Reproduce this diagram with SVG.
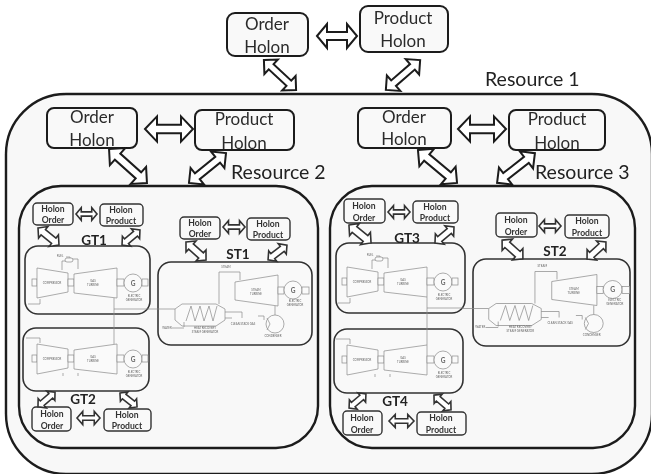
<svg xmlns="http://www.w3.org/2000/svg" width="651" height="474" viewBox="0 0 651 474">
<style>
text{font-family:"Lato","Liberation Sans",sans-serif;text-anchor:middle}
.res{fill:#f8f8f8;stroke:#1c1c1c;stroke-width:2.4}
.hb{fill:#f9f9f9;stroke:#1c1c1c;stroke-width:2}
.sb{fill:#f9f9f9;stroke:#333;stroke-width:1.6}
.ub{fill:#f9f9f9;stroke:#333;stroke-width:1.4}
.lab{font-size:17px;fill:#2c2c2c}
.res-lab{font-size:19.5px;fill:#222;text-anchor:start}
.sm{font-size:8.6px;font-weight:700;fill:#333}
.gt{font-size:13.5px;font-weight:700;fill:#222}
#d,#x,#s{vector-effect:non-scaling-stroke}
.ar{fill:#fff;stroke:#1a1a1a;stroke-width:2}
.ar2{fill:#fff;stroke:#333;stroke-width:1.6}
.m{fill:none;stroke:#8a8a8a;stroke-width:.7}
.mf{fill:#fafafa;stroke:#8a8a8a;stroke-width:.7}
.t{font-size:2.8px;fill:#666}
.g{font-size:6.5px;font-weight:700;fill:#666}
</style>
<defs>
<filter id="soft" x="-2%" y="-2%" width="104%" height="104%"><feGaussianBlur stdDeviation="0.35"/></filter>
<path id="d" d="M-1 0L-.55-.45V-.16H.55V-.45L1 0 .55 .45V.16H-.55V.45Z"/>
<path id="s" d="M-1 0L-.5-.55V-.26H.5V-.55L1 0 .5 .55V.26H-.5V.55Z"/>
<path id="x" d="M-1 0L-.5-.6V-.2H.5V-.6L1 0 .5 .6V.2H-.5V.6Z"/>
<g id="gen">
<rect class="mf" x="32" y="279" width="5" height="7"/>
<path class="mf" d="M37 268L68 273V292L37 298Z"/>
<rect class="mf" x="68" y="279" width="6" height="7"/>
<path class="mf" d="M74 274L117 268V298L74 293Z"/>
<rect class="mf" x="117" y="279" width="7" height="7"/>
<circle class="mf" cx="133" cy="283" r="9"/>
<rect class="mf" x="142" y="279" width="6" height="7"/>
<text class="t" x="52" y="284">COMPRESSOR</text>
<text class="t" x="93" y="282">GAS</text>
<text class="t" x="93" y="286">TURBINE</text>
<text class="g" x="133" y="285.500">G</text>
<text class="t" x="134" y="297">ELECTRIC</text>
<text class="t" x="134" y="300.500">GENERATOR</text>
</g>
<g id="fuel">
<path class="m" d="M62 270V261H66M72 259H78V269"/>
<rect class="mf" x="65" y="258" width="8" height="4" rx="2"/>
<path class="m" d="M66 257H70V258"/>
<text class="t" x="60" y="257">FUEL</text>
<path class="m" d="M28 304H40V299"/>
</g>
<g id="st">
<path class="m" d="M150 309H175"/>
<path class="mf" d="M175 309L182 304H216L225 309V320L216 326H182L175 320Z"/>
<path class="m" d="M186 321L191 306 195 321 200 306 204 321 209 306 213 321 217 306"/>
<path class="m" d="M219 304V272H240V280"/>
<path class="m" d="M225 312H242V318M225 318H232M184 322V327"/>
<path class="mf" d="M235 282L278 275V306L235 300Z"/>
<rect class="mf" x="278" y="287" width="6" height="7"/>
<circle class="mf" cx="293" cy="290" r="9"/>
<rect class="mf" x="302" y="287" width="7" height="7"/>
<circle class="mf" cx="275" cy="324" r="9"/>
<path class="m" d="M267 318L270 324 267 330M275 315V306M258 316H264V320"/>
<text class="t" x="226" y="268">STEAM</text>
<text class="t" x="256" y="291">STEAM</text>
<text class="t" x="256" y="295">TURBINE</text>
<text class="g" x="293" y="292.500">G</text>
<text class="t" x="295" y="302">ELECTRIC</text>
<text class="t" x="295" y="305.500">GENERATOR</text>
<text class="t" x="205" y="329">HEAT RECOVERY</text>
<text class="t" x="205" y="332.500">STEAM GENERATOR</text>
<text class="t" x="167" y="329">WATER</text>
<path class="m" d="M172 328H184"/>
<text class="t" x="243" y="325">CLEAN STACK GAS</text>
<text class="t" x="273" y="337">CONDENSER</text>
</g>
</defs>
<rect width="651" height="474" fill="#fff"/>
<g filter="url(#soft)">
<g id="resource-1">
<rect class="res" x="6" y="94" width="646" height="380" rx="60"/>
<text class="res-lab" x="485" y="86">Resource 1</text>
</g>
<g id="order-holon-top"><rect class="hb" x="227" y="13" width="81" height="43" rx="8"/><text class="lab" x="267" y="30">Order</text><text class="lab" x="267" y="53">Holon</text></g>
<g id="product-holon-top"><rect class="hb" x="360" y="6" width="88" height="46" rx="8"/><text class="lab" x="403" y="24">Product</text><text class="lab" x="403" y="47">Holon</text></g>

<g id="resource-2">
<rect class="res" x="19" y="186" width="299" height="262" rx="42"/>
<text class="res-lab" x="231" y="179">Resource 2</text>
</g>
<g id="resource-3">
<rect class="res" x="330" y="186" width="305" height="262" rx="42"/>
<text class="res-lab" x="535" y="179">Resource 3</text>
</g>
<g id="order-holon-r2"><rect class="hb" x="47" y="108" width="90" height="40" rx="7"/><text class="lab" x="92" y="123">Order</text><text class="lab" x="92" y="146">Holon</text></g>
<g id="product-holon-r2"><rect class="hb" x="195" y="110" width="99" height="40" rx="7"/><text class="lab" x="244" y="125">Product</text><text class="lab" x="244" y="149">Holon</text></g>
<g id="order-holon-r3"><rect class="hb" x="358" y="108" width="93" height="40" rx="7"/><text class="lab" x="404" y="123">Order</text><text class="lab" x="404" y="145">Holon</text></g>
<g id="product-holon-r3"><rect class="hb" x="509" y="110" width="96" height="40" rx="7"/><text class="lab" x="557" y="125">Product</text><text class="lab" x="557" y="149">Holon</text></g>

<g id="gt1"><rect class="sb" x="25" y="246" width="125" height="68" rx="13"/><use href="#gen"/><use href="#fuel"/><text class="gt" x="94" y="244.500">GT1</text></g>
<g id="gt2"><rect class="sb" x="23" y="328" width="126" height="63" rx="13"/><use href="#gen" transform="translate(0,76)"/><path class="m" d="M26 338H40V343M63 373V376M78 373V376"/><text class="gt" x="83" y="403.500">GT2</text></g>
<g id="st1"><rect class="sb" x="158" y="262" width="154" height="83" rx="13"/><use href="#st"/><text class="gt" x="238" y="258.500">ST1</text></g>
<g id="gt3"><rect class="sb" x="336" y="243" width="129" height="70" rx="13"/><use href="#gen" transform="translate(310,-1)"/><use href="#fuel" transform="translate(310,-1)"/><text class="gt" x="407" y="242.500">GT3</text></g>
<g id="gt4"><rect class="sb" x="334" y="329" width="129" height="64" rx="13"/><use href="#gen" transform="translate(310,77)"/><path class="m" d="M336 339H350V344M375 374V377M390 374V377"/><text class="gt" x="395" y="406">GT4</text></g>
<g id="st2"><rect class="sb" x="473" y="259" width="157" height="87" rx="13"/><use href="#st" transform="translate(305,-.5) scale(1.05,1)"/><text class="gt" x="555" y="256">ST2</text></g>

<g id="holon-order-gt1"><rect class="ub" x="33" y="203" width="40" height="22" rx="4"/><text class="sm" x="53" y="212">Holon</text><text class="sm" x="53" y="223">Order</text></g>
<g id="holon-product-gt1"><rect class="ub" x="100" y="204" width="43" height="22" rx="4"/><text class="sm" x="121" y="213">Holon</text><text class="sm" x="121" y="224">Product</text></g>
<g id="holon-order-st1"><rect class="ub" x="180" y="217" width="40" height="22" rx="4"/><text class="sm" x="200" y="226">Holon</text><text class="sm" x="200" y="237">Order</text></g>
<g id="holon-product-st1"><rect class="ub" x="247" y="218" width="43" height="22" rx="4"/><text class="sm" x="268" y="227">Holon</text><text class="sm" x="268" y="238">Product</text></g>
<g id="holon-order-gt2"><rect class="ub" x="32" y="407" width="39" height="24" rx="4"/><text class="sm" x="52" y="417">Holon</text><text class="sm" x="52" y="429">Order</text></g>
<g id="holon-product-gt2"><rect class="ub" x="104" y="409" width="47" height="22" rx="4"/><text class="sm" x="127" y="418">Holon</text><text class="sm" x="127" y="429">Product</text></g>
<g id="holon-order-gt3"><rect class="ub" x="344" y="199" width="41" height="24" rx="4"/><text class="sm" x="364" y="209">Holon</text><text class="sm" x="364" y="221">Order</text></g>
<g id="holon-product-gt3"><rect class="ub" x="413" y="201" width="45" height="22" rx="4"/><text class="sm" x="435" y="210">Holon</text><text class="sm" x="435" y="221">Product</text></g>
<g id="holon-order-st2"><rect class="ub" x="496" y="213" width="41" height="24" rx="4"/><text class="sm" x="516" y="223">Holon</text><text class="sm" x="516" y="235">Order</text></g>
<g id="holon-product-st2"><rect class="ub" x="565" y="215" width="44" height="23" rx="4"/><text class="sm" x="587" y="224">Holon</text><text class="sm" x="587" y="236">Product</text></g>
<g id="holon-order-gt4"><rect class="ub" x="343" y="411" width="39" height="24" rx="4"/><text class="sm" x="362" y="421">Holon</text><text class="sm" x="362" y="433">Order</text></g>
<g id="holon-product-gt4"><rect class="ub" x="417" y="412" width="49" height="23" rx="4"/><text class="sm" x="441" y="421">Holon</text><text class="sm" x="441" y="433">Product</text></g>

<g id="connectors">
<path class="m" d="M114 298V344M114 309H150"/>
<path class="m" d="M427 297V345M427 308H463"/>
<use class="ar" href="#x" transform="translate(337,36) scale(20)"/>
<use class="ar" href="#x" transform="translate(169,129) scale(24,21)"/>
<use class="ar" href="#x" transform="translate(482,129) scale(24,21)"/>
<use class="ar" href="#d" transform="translate(280,75) rotate(43) scale(22)"/>
<use class="ar" href="#d" transform="translate(403,75) rotate(139) scale(22.700)"/>
<use class="ar" href="#d" transform="translate(128,166) rotate(42) scale(25.500)"/>
<use class="ar" href="#d" transform="translate(207.500,168) rotate(141) scale(23.800)"/>
<use class="ar" href="#d" transform="translate(437.500,166.500) rotate(40) scale(25.500)"/>
<use class="ar" href="#d" transform="translate(516,168) rotate(142) scale(24)"/>
<use class="ar2" href="#s" transform="translate(48.500,236.500) rotate(39) scale(13.500)"/>
<use class="ar2" href="#s" transform="translate(131,237.500) rotate(140) scale(11.700)"/>
<use class="ar2" href="#s" transform="translate(196,251) rotate(42) scale(13.500)"/>
<use class="ar2" href="#s" transform="translate(277.500,252.500) rotate(142) scale(12)"/>
<use class="ar2" href="#s" transform="translate(46.500,399.500) rotate(139) scale(11.300)"/>
<use class="ar2" href="#s" transform="translate(128.500,400) rotate(39) scale(11)"/>
<use class="ar2" href="#s" transform="translate(360,234) rotate(39) scale(14.200)"/>
<use class="ar2" href="#s" transform="translate(444.500,235) rotate(140) scale(12.400)"/>
<use class="ar2" href="#s" transform="translate(512.500,249.500) rotate(42) scale(14)"/>
<use class="ar2" href="#s" transform="translate(596.500,250.500) rotate(138) scale(12.700)"/>
<use class="ar2" href="#s" transform="translate(357.500,401) rotate(140) scale(11)"/>
<use class="ar2" href="#s" transform="translate(442.500,402.500) rotate(41) scale(11.300)"/>
<use class="ar2" href="#x" transform="translate(86.500,214) scale(10.500,10.500)"/>
<use class="ar2" href="#x" transform="translate(234,227) scale(11,10.500)"/>
<use class="ar2" href="#x" transform="translate(88.500,418) scale(11.500,11)"/>
<use class="ar2" href="#x" transform="translate(399,212) scale(11,10.500)"/>
<use class="ar2" href="#x" transform="translate(550,226) scale(11,10.500)"/>
<use class="ar2" href="#x" transform="translate(401.500,421) scale(12.500,11)"/>
</g>
</g>
</svg>
